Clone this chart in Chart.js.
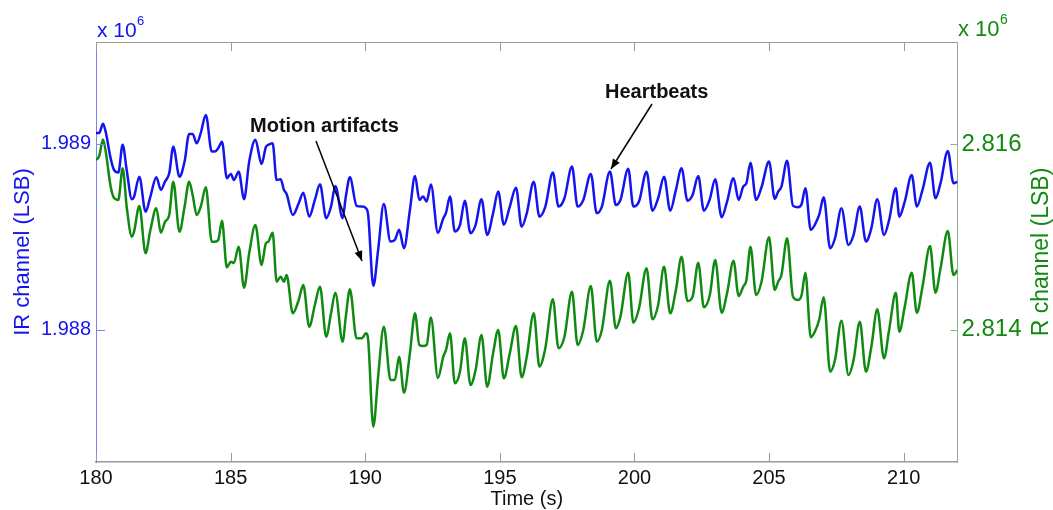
<!DOCTYPE html>
<html>
<head>
<meta charset="utf-8">
<script src="https://cdn.jsdelivr.net/npm/chart.js@4.4.1/dist/chart.umd.min.js"></script>
<style>
  html, body { margin: 0; padding: 0; background: #fff; }
  #wrap { width: 1053px; height: 510px; position: relative; }
</style>
</head>
<body>
<div id="wrap"><canvas id="ppg"></canvas></div>
<script>
// time axis (s)
const times = [
  180.00, 180.12, 180.26, 180.37, 180.54, 180.67, 180.83, 180.99, 181.14, 181.33,
  181.41, 181.61, 181.84, 182.02, 182.24, 182.41, 182.56, 182.72, 182.87, 183.10,
  183.29, 183.46, 183.59, 183.74, 183.89, 184.08, 184.30, 184.42, 184.54, 184.68,
  184.86, 185.01, 185.12, 185.30, 185.50, 185.69, 185.92, 186.15, 186.31, 186.40,
  186.56, 186.71, 186.86, 186.98, 187.08, 187.31, 187.53, 187.70, 187.92, 188.13,
  188.32, 188.55, 188.73, 188.89, 189.16, 189.28, 189.43, 189.68, 189.87, 190.03,
  190.11, 190.30, 190.48, 190.69, 190.94, 191.10, 191.26, 191.44, 191.66, 191.85,
  192.01, 192.15, 192.28, 192.44, 192.70, 192.90, 193.00, 193.15, 193.33, 193.52,
  193.70, 193.91, 194.10, 194.32, 194.53, 194.75, 194.94, 195.15, 195.37, 195.60,
  195.81, 196.00, 196.26, 196.47, 196.69, 196.97, 197.18, 197.40, 197.68, 197.89,
  198.10, 198.38, 198.60, 198.79, 199.09, 199.31, 199.48, 199.77, 199.96, 200.17,
  200.45, 200.67, 200.88, 201.10, 201.33, 201.54, 201.75, 201.97, 202.16, 202.37,
  202.58, 202.80, 203.00, 203.24, 203.44, 203.68, 203.87, 204.04, 204.16, 204.31,
  204.52, 204.72, 205.00, 205.21, 205.34, 205.46, 205.67, 205.89, 206.08, 206.21,
  206.35, 206.55, 206.70, 206.86, 207.03, 207.27, 207.45, 207.69, 207.95, 208.14,
  208.37, 208.60, 208.80, 209.02, 209.27, 209.46, 209.71, 209.84, 210.04, 210.30,
  210.49, 210.70, 210.98, 211.18, 211.37, 211.64, 211.85, 212.00
];

// IR channel (LSB)
const irValues = [
  1989059, 1989059, 1989108, 1989059, 1988925, 1988860, 1988846, 1988995, 1988860, 1988703,
  1988715, 1988824, 1988636, 1988717, 1988821, 1988753, 1988797, 1988842, 1988985, 1988824,
  1988905, 1989054, 1989054, 1989004, 1989058, 1989156, 1988959, 1988959, 1988977, 1989012,
  1988816, 1988839, 1988806, 1988851, 1988703, 1988905, 1989022, 1988892, 1988984, 1988995,
  1989004, 1988806, 1988810, 1988753, 1988731, 1988618, 1988681, 1988738, 1988609, 1988699,
  1988783, 1988601, 1988663, 1988774, 1988601, 1988717, 1988821, 1988667, 1988663, 1988654,
  1988618, 1988237, 1988430, 1988677, 1988475, 1988484, 1988538, 1988439, 1988645, 1988828,
  1988699, 1988717, 1988690, 1988782, 1988522, 1988601, 1988629, 1988717, 1988529, 1988565,
  1988694, 1988520, 1988565, 1988703, 1988511, 1988627, 1988744, 1988565, 1988663, 1988765,
  1988555, 1988627, 1988797, 1988609, 1988663, 1988846, 1988663, 1988708, 1988878, 1988663,
  1988699, 1988839, 1988627, 1988663, 1988852, 1988672, 1988699, 1988866, 1988663, 1988690,
  1988851, 1988641, 1988708, 1988824, 1988641, 1988753, 1988869, 1988695, 1988726, 1988828,
  1988641, 1988703, 1988810, 1988606, 1988690, 1988816, 1988699, 1988770, 1988789, 1988899,
  1988699, 1988767, 1988905, 1988705, 1988744, 1988770, 1988909, 1988667, 1988660, 1988677,
  1988762, 1988538, 1988565, 1988618, 1988713, 1988439, 1988493, 1988654, 1988457, 1988511,
  1988663, 1988475, 1988547, 1988703, 1988511, 1988591, 1988762, 1988609, 1988690, 1988833,
  1988663, 1988753, 1988899, 1988708, 1988789, 1988962, 1988789, 1988797
];

// R channel (LSB)
const redValues = [
  2815831, 2815874, 2816052, 2815906, 2815550, 2815421, 2815400, 2815741, 2815327, 2815004,
  2815055, 2815335, 2814825, 2815076, 2815310, 2815047, 2815162, 2815238, 2815597, 2815058,
  2815327, 2815597, 2815453, 2815238, 2815327, 2815536, 2814950, 2814950, 2814968, 2815176,
  2814674, 2814734, 2814720, 2814896, 2814454, 2814825, 2815130, 2814699, 2814933, 2814950,
  2815047, 2814519, 2814573, 2814519, 2814591, 2814178, 2814322, 2814483, 2814034, 2814268,
  2814465, 2813926, 2814178, 2814400, 2813872, 2814142, 2814437, 2813909, 2813909, 2813963,
  2813890, 2812956, 2813495, 2814034, 2813459, 2813459, 2813710, 2813322, 2813747, 2814178,
  2813836, 2813826, 2813836, 2814133, 2813481, 2813710, 2813783, 2813963, 2813424, 2813549,
  2813909, 2813405, 2813567, 2813944, 2813387, 2813747, 2813998, 2813477, 2813747, 2814041,
  2813488, 2813710, 2814178, 2813603, 2813801, 2814329, 2813801, 2813926, 2814411, 2813836,
  2813998, 2814472, 2813872, 2813998, 2814530, 2814016, 2814142, 2814616, 2814077, 2814232,
  2814663, 2814113, 2814268, 2814680, 2814178, 2814429, 2814788, 2814311, 2814357, 2814724,
  2814243, 2814375, 2814753, 2814185, 2814394, 2814745, 2814365, 2814465, 2814537, 2814896,
  2814375, 2814519, 2814997, 2814429, 2814519, 2814591, 2814987, 2814357, 2814322, 2814375,
  2814616, 2813919, 2813980, 2814106, 2814351, 2813549, 2813675, 2814098, 2813513, 2813675,
  2814088, 2813549, 2813818, 2814221, 2813693, 2813998, 2814400, 2813980, 2814249, 2814616,
  2814185, 2814465, 2814904, 2814400, 2814663, 2815065, 2814591, 2814645
];

const timeTicks = [180, 185, 190, 195, 200, 205, 210];
const irTicks = [1988000, 1989000];
const redTicks = [2814000, 2816000];

const BLUE = "#1414ee";
const GREEN = "#118a11";
const FONT = "'Liberation Sans', Arial, Helvetica, sans-serif";

// ticks pointing inwards, box, exponent labels, axis titles and arrows
const decor = {
  id: "decor",
  afterDraw(chart) {
    const { ctx, chartArea: a, scales } = chart;
    ctx.save();

    ctx.lineWidth = 1;
    ctx.strokeStyle = "#999999";
    ctx.beginPath();
    ctx.moveTo(a.left, a.top + 0.5);
    ctx.lineTo(a.right, a.top + 0.5);
    ctx.stroke();

    ctx.beginPath();
    timeTicks.forEach(t => {
      const px = Math.round(scales.x.getPixelForValue(t)) + 0.5;
      ctx.moveTo(px, a.bottom);
      ctx.lineTo(px, a.bottom - 9);
      ctx.moveTo(px, a.top);
      ctx.lineTo(px, a.top + 9);
    });
    ctx.stroke();

    ctx.strokeStyle = "#8080f0";
    ctx.beginPath();
    irTicks.forEach(v => {
      const py = Math.round(scales.yIR.getPixelForValue(v)) + 0.5;
      ctx.moveTo(a.left, py);
      ctx.lineTo(a.left + 9, py);
    });
    ctx.stroke();

    ctx.strokeStyle = "#8fb08f";
    ctx.beginPath();
    redTicks.forEach(v => {
      const py = Math.round(scales.yR.getPixelForValue(v)) + 0.5;
      ctx.moveTo(a.right, py);
      ctx.lineTo(a.right - 7, py);
    });
    ctx.stroke();

    // exponent labels
    ctx.textBaseline = "alphabetic";
    ctx.textAlign = "left";
    ctx.fillStyle = BLUE;
    ctx.font = "21px " + FONT;
    ctx.fillText("x 10", 97, 37);
    ctx.font = "13px " + FONT;
    ctx.fillText("6", 137, 25);

    ctx.fillStyle = GREEN;
    ctx.font = "22px " + FONT;
    ctx.fillText("x 10", 958, 36);
    ctx.font = "14px " + FONT;
    ctx.fillText("6", 1000, 24);

    // axis titles
    ctx.textAlign = "center";
    ctx.textBaseline = "middle";
    ctx.save();
    ctx.translate(23, (a.top + a.bottom) / 2);
    ctx.rotate(-Math.PI / 2);
    ctx.fillStyle = BLUE;
    ctx.font = "22px " + FONT;
    ctx.fillText("IR channel (LSB)", 0, 0);
    ctx.restore();

    ctx.save();
    ctx.translate(1042, (a.top + a.bottom) / 2);
    ctx.rotate(-Math.PI / 2);
    ctx.fillStyle = GREEN;
    ctx.font = "23px " + FONT;
    ctx.fillText("R channel (LSB)", 0, 0);
    ctx.restore();

    ctx.fillStyle = "#111";
    ctx.font = "20px " + FONT;
    ctx.fillText("Time (s)", (a.left + a.right) / 2, 499);

    // annotations
    ctx.textAlign = "left";
    ctx.textBaseline = "alphabetic";
    ctx.font = "bold 20px " + FONT;
    ctx.fillText("Motion artifacts", 250, 132);
    ctx.fillText("Heartbeats", 605, 98);

    const arrow = (x1, y1, x2, y2) => {
      ctx.strokeStyle = "#000";
      ctx.lineWidth = 1.5;
      ctx.beginPath();
      ctx.moveTo(x1, y1);
      ctx.lineTo(x2, y2);
      ctx.stroke();
      const ang = Math.atan2(y2 - y1, x2 - x1);
      const len = 10, w = 4;
      ctx.fillStyle = "#000";
      ctx.beginPath();
      ctx.moveTo(x2, y2);
      ctx.lineTo(x2 - len * Math.cos(ang) + w * Math.sin(ang), y2 - len * Math.sin(ang) - w * Math.cos(ang));
      ctx.lineTo(x2 - len * Math.cos(ang) - w * Math.sin(ang), y2 - len * Math.sin(ang) + w * Math.cos(ang));
      ctx.closePath();
      ctx.fill();
    };
    arrow(316, 141, 362, 261);
    arrow(652, 104, 611, 169);

    ctx.restore();
  }
};

const line = (vals) => times.map((t, i) => ({ x: t, y: vals[i] }));

new Chart(document.getElementById("ppg"), {
  type: "line",
  data: {
    datasets: [
      {
        label: "IR",
        data: line(irValues),
        yAxisID: "yIR",
        borderColor: BLUE,
        borderWidth: 2.5,
        pointRadius: 0,
        cubicInterpolationMode: "monotone",
        fill: false
      },
      {
        label: "R",
        data: line(redValues),
        yAxisID: "yR",
        borderColor: GREEN,
        borderWidth: 2.5,
        pointRadius: 0,
        cubicInterpolationMode: "monotone",
        fill: false
      }
    ]
  },
  options: {
    responsive: true,
    maintainAspectRatio: false,
    animation: false,
    layout: { padding: { top: 42, left: 0, right: 0, bottom: 0 } },
    plugins: {
      legend: { display: false },
      tooltip: { enabled: false }
    },
    scales: {
      x: {
        type: "linear",
        position: "bottom",
        min: 180,
        max: 212,
        afterFit: s => { s.height = 48; },
        afterBuildTicks: s => { s.ticks = timeTicks.map(v => ({ value: v })); },
        ticks: { color: "#111", padding: 4, font: { family: FONT, size: 20 }, maxRotation: 0 },
        grid: { drawOnChartArea: false, drawTicks: false },
        border: { display: true, color: "#999999", width: 1.5 }
      },
      yIR: {
        type: "linear",
        position: "left",
        min: 1987290,
        max: 1989548,
        afterFit: s => { s.width = 96; },
        afterBuildTicks: s => { s.ticks = irTicks.map(v => ({ value: v })); },
        ticks: {
          color: BLUE,
          padding: 5,
          font: { family: FONT, size: 20 },
          callback: v => (v / 1e6).toFixed(3)
        },
        grid: { drawOnChartArea: false, drawTicks: false },
        border: { display: true, color: "#8080f0", width: 1 }
      },
      yR: {
        type: "linear",
        position: "right",
        min: 2812575,
        max: 2817103,
        afterFit: s => { s.width = 95.5; },
        afterBuildTicks: s => { s.ticks = redTicks.map(v => ({ value: v })); },
        ticks: {
          color: GREEN,
          padding: 4,
          font: { family: FONT, size: 24 },
          callback: v => (v / 1e6).toFixed(3)
        },
        grid: { drawOnChartArea: false, drawTicks: false },
        border: { display: true, color: "#8fb08f", width: 1 }
      }
    }
  },
  plugins: [decor]
});
</script>
</body>
</html>
